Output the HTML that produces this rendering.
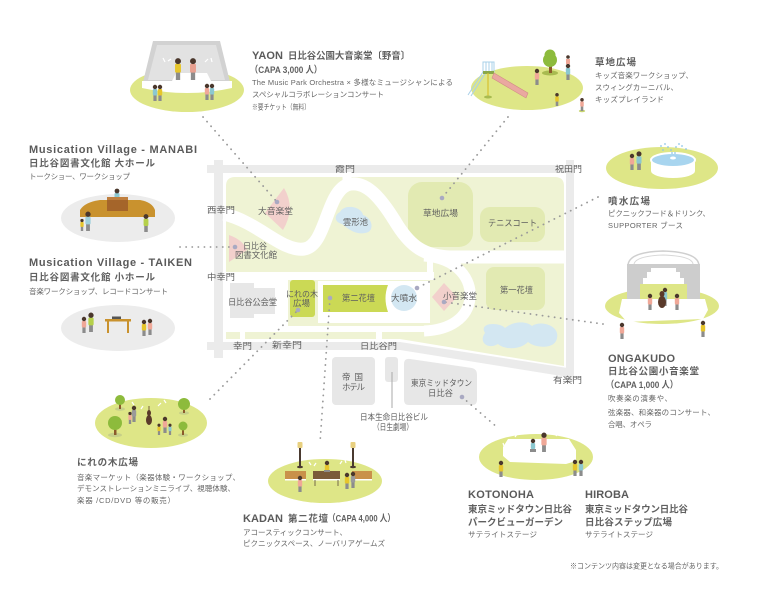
<!DOCTYPE html>
<html><head><meta charset="utf-8"><style>
html,body{margin:0;padding:0;background:#fff;}
svg{display:block;}
text{font-family:"Liberation Sans","Noto Sans CJK JP",sans-serif;fill:#5e5e5e;}
.t{font-weight:bold;font-size:11px;fill:#5a5a5a;}
.s{font-size:9.5px;font-weight:bold;fill:#606060;}
.d{font-size:7.5px;fill:#666;}
.m{font-size:8.5px;fill:#666;}
.dot{stroke:#9a9a9a;stroke-width:1.8;stroke-dasharray:0.1 6;stroke-linecap:round;fill:none;}
</style></head><body>
<svg width="770" height="590" viewBox="0 0 770 590" xmlns="http://www.w3.org/2000/svg">
<rect width="770" height="590" fill="#fff"/>

<!-- ============ MAP ============ -->
<g fill="#ebebeb">
<rect x="207" y="165" width="368" height="8"/>
<rect x="214" y="160" width="9" height="198"/>
<polygon points="207,342 400,342 574,369 574,378 400,350 207,350"/>
<rect x="566" y="160" width="8" height="222"/>
</g>
<path d="M226,186 Q226,177 235,177 L555,177 Q564,177 564,186 L564,366 L400,339 L226,339 Z" fill="#eff3d4"/>
<rect x="408" y="182" width="65" height="65" rx="14" fill="#e2eab2"/>
<rect x="480" y="207" width="65" height="35" rx="10" fill="#e2eab2"/>
<rect x="486" y="267" width="59" height="43" rx="8" fill="#e2eab2"/>
<g fill="none" stroke="#fff">
<path d="M224,214 C258,222 282,252 304,249 C326,246 326,194 347,185 C368,178 385,205 398,226 C411,246 424,256 450,257 L565,257" stroke-width="13"/>
<path d="M347,172 L347,186" stroke-width="9"/>
<path d="M424,256 C458,258 472,280 470,298 C468,318 450,330 424,331" stroke-width="11"/>
<path d="M430,258 L430,276" stroke-width="6"/>
</g>
<g fill="#fff">
<rect x="224" y="272" width="210" height="8"/>
<rect x="224" y="279" width="64" height="50"/>
<rect x="318" y="281" width="112" height="42"/>
<rect x="224" y="326" width="210" height="6"/>
<rect x="240" y="330" width="5" height="12"/>
<rect x="376" y="330" width="6" height="12"/>
</g>
<g fill="#e7e7e7">
<rect x="230" y="283" width="24" height="35"/>
<rect x="252" y="288" width="23" height="26"/>
<rect x="332" y="357" width="43" height="48" rx="4"/>
<rect x="385" y="357" width="13" height="25" rx="3"/>
<path d="M404,364 Q404,358 410,359 L472,368 Q477,369 477,375 L477,400 Q477,405 472,405 L409,405 Q404,405 404,400 Z"/>
</g>
<line x1="392" y1="372" x2="392" y2="408" stroke="#aaa" stroke-width="1"/>
<g fill="#f2d0cc">
<path d="M265,213 L284,188 Q296,208 283,230 Z"/>
<path d="M229,235 Q243,240 247,250 L229,262 Z"/>
<polygon points="444,283 457,297 444,311 432,297"/>
</g>
<g fill="#d3e7f2">
<path d="M340,212 C345,203 362,207 363,215 C373,218 375,232 365,233 C355,235 347,228 342,224 C334,222 334,215 340,212 Z"/>
<path d="M485,333 C478,322 500,322 505,328 C512,322 525,320 532,326 C540,320 560,325 557,338 C555,350 535,348 528,342 C520,350 505,350 498,344 C488,350 478,342 485,333 Z"/>
<circle cx="404" cy="298" r="13"/>
</g>
<g fill="#cbd955">
<rect x="290" y="280" width="25" height="37" rx="3"/>
<path d="M323,285 L388,285 Q383,298 388,312 L323,312 Z"/>
</g>

<g class="m">
<text x="335" y="172" textLength="20" lengthAdjust="spacingAndGlyphs">霞門</text>
<text x="555" y="172" textLength="27" lengthAdjust="spacingAndGlyphs">祝田門</text>
<text x="207" y="213" textLength="28" lengthAdjust="spacingAndGlyphs">西幸門</text>
<text x="207" y="280" textLength="28" lengthAdjust="spacingAndGlyphs">中幸門</text>
<text x="233" y="349" textLength="19" lengthAdjust="spacingAndGlyphs">幸門</text>
<text x="272" y="348" textLength="30" lengthAdjust="spacingAndGlyphs">新幸門</text>
<text x="360" y="349" textLength="37" lengthAdjust="spacingAndGlyphs">日比谷門</text>
<text x="553" y="383" textLength="29" lengthAdjust="spacingAndGlyphs">有楽門</text>
<text x="258" y="214" textLength="35" lengthAdjust="spacingAndGlyphs">大音楽堂</text>
<text x="243" y="249" textLength="24" lengthAdjust="spacingAndGlyphs">日比谷</text>
<text x="235" y="258" textLength="42" lengthAdjust="spacingAndGlyphs">図書文化館</text>
<text x="343" y="225" textLength="25" lengthAdjust="spacingAndGlyphs">雲形池</text>
<text x="423" y="216" textLength="35" lengthAdjust="spacingAndGlyphs">草地広場</text>
<text x="488" y="226" textLength="49" lengthAdjust="spacingAndGlyphs">テニスコート</text>
<text x="500" y="293" textLength="33" lengthAdjust="spacingAndGlyphs">第一花壇</text>
<text x="228" y="305" textLength="49" lengthAdjust="spacingAndGlyphs">日比谷公会堂</text>
<text x="286" y="297" textLength="32" lengthAdjust="spacingAndGlyphs">にれの木</text>
<text x="293" y="306" textLength="17" lengthAdjust="spacingAndGlyphs">広場</text>
<text x="342" y="301" textLength="33" lengthAdjust="spacingAndGlyphs">第二花壇</text>
<text x="391" y="301" textLength="26" lengthAdjust="spacingAndGlyphs">大噴水</text>
<text x="443" y="299" textLength="34" lengthAdjust="spacingAndGlyphs">小音楽堂</text>
<text x="342" y="380" textLength="21" lengthAdjust="spacing">帝国</text>
<text x="342" y="390" textLength="23" lengthAdjust="spacing">ホテル</text>
<text x="411" y="386" textLength="61" lengthAdjust="spacingAndGlyphs">東京ミッドタウン</text>
<text x="428" y="396" textLength="25" lengthAdjust="spacingAndGlyphs">日比谷</text>
<text x="360" y="420" textLength="68" lengthAdjust="spacingAndGlyphs">日本生命日比谷ビル</text>
<text x="373" y="430" textLength="40" lengthAdjust="spacingAndGlyphs">（日生劇場）</text>
</g>

<g class="dot">
<line x1="203" y1="117" x2="277" y2="202"/>
<line x1="508" y1="117" x2="442" y2="198"/>
<line x1="598" y1="197" x2="417" y2="288"/>
<line x1="603" y1="324" x2="444" y2="302"/>
<line x1="180" y1="247" x2="235" y2="247"/>
<line x1="210" y1="399" x2="298" y2="310"/>
<line x1="330" y1="298" x2="320" y2="443"/>
<line x1="462" y1="397" x2="498" y2="428"/>
</g>
<g fill="#a9a9c2">
<circle cx="277" cy="202" r="2.3"/>
<circle cx="235" cy="247" r="2.3"/>
<circle cx="442" cy="198" r="2.3"/>
<circle cx="417" cy="288" r="2.3"/>
<circle cx="444" cy="302" r="2.3"/>
<circle cx="298" cy="310" r="2.3"/>
<circle cx="330" cy="298" r="2.3"/>
<circle cx="462" cy="397" r="2.3"/>
</g>

<!-- ============ YAON ============ -->
<ellipse cx="187" cy="90" rx="57" ry="22" fill="#dee687"/>
<polygon points="153,41 220,41 230,82 143,82" fill="#d2d2d2"/>
<polygon points="157,45 216,45 225,80 148,80" fill="#e2e2e2"/>
<path d="M142,81 L172,81 L176,73 L207,73 L211,81 L232,81 L232,88 Q187,98 142,88 Z" fill="#fff"/>
<g stroke="#fff" stroke-width="1.2" fill="none"><path d="M163,58 l2,4"/><path d="M168,61 l3,-2"/><path d="M205,62 l3,-3"/><path d="M211,58 l1,4"/></g>
<g transform="translate(178,80) scale(1.35)"><rect x="-1.6" y="-6" width="3.2" height="6" fill="#8c8c8c"/><rect x="-2.2" y="-12" width="4.4" height="6.5" rx="1" fill="#e6c52c"/><circle cy="-14" r="2.2" fill="#4a372c"/></g>
<g transform="translate(193,80) scale(1.35)"><rect x="-1.6" y="-6" width="3.2" height="6" fill="#8c8c8c"/><rect x="-2.2" y="-12" width="4.4" height="6.5" rx="1" fill="#e8a090"/><circle cy="-14" r="2.2" fill="#4a372c"/></g>
<g transform="translate(155,101)"><rect x="-1.6" y="-6" width="3.2" height="6" fill="#8c8c8c"/><rect x="-2.2" y="-12" width="4.4" height="6.5" rx="1" fill="#8cc8d0"/><circle cy="-14" r="2.2" fill="#4a372c"/></g>
<g transform="translate(160,101)"><rect x="-1.6" y="-6" width="3.2" height="6" fill="#8c8c8c"/><rect x="-2.2" y="-12" width="4.4" height="6.5" rx="1" fill="#e6c52c"/><circle cy="-14" r="2.2" fill="#4a372c"/></g>
<g transform="translate(207,100)"><rect x="-1.6" y="-6" width="3.2" height="6" fill="#8c8c8c"/><rect x="-2.2" y="-12" width="4.4" height="6.5" rx="1" fill="#f0a898"/><circle cy="-14" r="2.2" fill="#4a372c"/></g>
<g transform="translate(212,100)"><rect x="-1.6" y="-6" width="3.2" height="6" fill="#8c8c8c"/><rect x="-2.2" y="-12" width="4.4" height="6.5" rx="1" fill="#8cc8d0"/><circle cy="-14" r="2.2" fill="#4a372c"/></g>

<text class="t" x="252" y="59" textLength="31" lengthAdjust="spacing">YAON</text>
<text class="s" x="288" y="59" font-size="10.5" textLength="122" lengthAdjust="spacingAndGlyphs">日比谷公園大音楽堂〔野音〕</text>
<text class="s" x="250" y="73" font-size="8.5" textLength="72" lengthAdjust="spacingAndGlyphs">（CAPA 3,000 人）</text>
<text class="d" x="252" y="85" textLength="201" lengthAdjust="spacing">The Music Park Orchestra × 多様なミュージシャンによる</text>
<text class="d" x="252" y="97" textLength="132" lengthAdjust="spacing">スペシャルコラボレーションコンサート</text>
<text class="d" x="252" y="109.5" font-size="6.5" textLength="58" lengthAdjust="spacingAndGlyphs">※要チケット（無料）</text>

<!-- ============ 草地広場 ============ -->
<ellipse cx="527" cy="88" rx="56" ry="22" fill="#dee687"/>
<g stroke="#a9d0e8" stroke-width="1" fill="none">
<rect x="483" y="62" width="11" height="10"/>
<line x1="486" y1="62" x2="486" y2="72"/><line x1="489" y1="62" x2="489" y2="72"/><line x1="492" y1="62" x2="492" y2="72"/>
<path d="M483,72 L468,95 M486,72 L471,96"/>
</g>
<rect x="483" y="71" width="11" height="3" fill="#8aa84a"/>
<line x1="488" y1="73" x2="488" y2="96" stroke="#d8c030" stroke-width="1.2"/>
<ellipse cx="488" cy="97" rx="4" ry="1.5" fill="#a8bb50"/>
<polygon points="494,73 528,93 526,98 492,78" fill="#eaa8a0" stroke="#d08c86" stroke-width="0.6"/>
<ellipse cx="550" cy="73" rx="8" ry="2.5" fill="#a8bb50"/>
<rect x="549" y="64" width="3" height="9" fill="#8b5a2b"/>
<circle cx="550" cy="60" r="7" fill="#8dbb3c"/>
<circle cx="550" cy="55" r="5.5" fill="#8dbb3c"/>
<g transform="translate(537,85)"><rect x="-1.6" y="-6" width="3.2" height="6" fill="#8c8c8c"/><rect x="-2.2" y="-12" width="4.4" height="6.5" rx="1" fill="#f0a898"/><circle cy="-14" r="2.2" fill="#4a372c"/></g>
<g transform="translate(568,80)"><rect x="-1.6" y="-6" width="3.2" height="6" fill="#8c8c8c"/><rect x="-2.2" y="-12" width="4.4" height="6.5" rx="1" fill="#8cc8d0"/><circle cy="-14" r="2.2" fill="#4a372c"/><rect x="-2" y="-21" width="4" height="5" fill="#f0a898"/><circle cy="-23" r="1.8" fill="#4a372c"/></g>
<g transform="translate(557,106) scale(0.8)"><rect x="-1.6" y="-6" width="3.2" height="6" fill="#8c8c8c"/><rect x="-2.2" y="-12" width="4.4" height="6.5" rx="1" fill="#e6c52c"/><circle cy="-14" r="2.2" fill="#4a372c"/></g>
<g transform="translate(582,111) scale(0.8)"><ellipse cy="0" rx="4" ry="1.5" fill="#c8d570"/><rect x="-1.6" y="-6" width="3.2" height="6" fill="#8c8c8c"/><rect x="-2.2" y="-12" width="4.4" height="6.5" rx="1" fill="#f0a898"/><circle cy="-14" r="2.2" fill="#4a372c"/></g>

<text class="s" x="595" y="65.5" font-size="10" textLength="41" lengthAdjust="spacing">草地広場</text>
<text class="d" x="595" y="78" textLength="98" lengthAdjust="spacing">キッズ音楽ワークショップ、</text>
<text class="d" x="595" y="90" textLength="83" lengthAdjust="spacing">スウィングカーニバル、</text>
<text class="d" x="595" y="102" textLength="69" lengthAdjust="spacing">キッズプレイランド</text>

<!-- ============ 噴水広場 ============ -->
<ellipse cx="662" cy="168" rx="56" ry="21" fill="#dee687"/>
<path d="M651,160 L651,171 A22 7 0 0 0 695,171 L695,160 Z" fill="#fff"/>
<ellipse cx="673" cy="160" rx="22" ry="7" fill="#a8d5ef" stroke="#fff" stroke-width="2"/>
<ellipse cx="673" cy="158" rx="3" ry="1.5" fill="#fff"/>
<g fill="#8cc4e8">
<circle cx="661" cy="146" r="0.9"/><circle cx="665" cy="144" r="0.9"/><circle cx="668" cy="147" r="0.9"/><circle cx="671" cy="150" r="0.9"/>
<circle cx="676" cy="147" r="0.9"/><circle cx="679" cy="144" r="0.9"/><circle cx="682" cy="146" r="0.9"/><circle cx="686" cy="149" r="0.9"/>
<circle cx="663" cy="150" r="0.9"/><circle cx="672" cy="153" r="0.9"/><circle cx="675" cy="153" r="0.9"/>
</g>
<g transform="translate(632,170)"><rect x="-1.6" y="-6" width="3.2" height="6" fill="#8c8c8c"/><rect x="-2.2" y="-12" width="4.4" height="6.5" rx="1" fill="#f0a898"/><circle cy="-14" r="2.2" fill="#4a372c"/></g>
<g transform="translate(639,170) scale(1.15)"><rect x="-1.6" y="-6" width="3.2" height="6" fill="#8c8c8c"/><rect x="-2.2" y="-12" width="4.4" height="6.5" rx="1" fill="#8cc8d0"/><circle cy="-14" r="2.2" fill="#4a372c"/></g>

<text class="s" x="608" y="204.5" font-size="10" textLength="42" lengthAdjust="spacing">噴水広場</text>
<text class="d" x="608" y="216" textLength="102" lengthAdjust="spacing">ピクニックフード＆ドリンク、</text>
<text class="d" x="608" y="228" textLength="75" lengthAdjust="spacing">SUPPORTER ブース</text>

<!-- ============ ONGAKUDO ============ -->
<ellipse cx="662" cy="306" rx="57" ry="18" fill="#dee687"/>
<path d="M628,266 Q628,252 663,251 Q699,252 699,266 Z" fill="#fff" stroke="#cfcfcf" stroke-width="1.5"/>
<path d="M634,264 Q636,256 663,255 Q692,256 693,264" fill="none" stroke="#d8d8d8" stroke-width="1"/>
<polygon points="627,264 700,264 700,307 687,307 687,284 684,284 684,278 680,278 680,272 676,272 676,268 651,268 651,272 647,272 647,278 643,278 643,284 640,284 640,307 627,307" fill="#cdcdcd"/>
<rect x="640" y="284" width="47" height="23" fill="#dee687"/>
<polygon points="622,299 705,299 708,310 703,319 627,322 619,313" fill="#fff"/>
<g transform="translate(650,310)"><rect x="-1.6" y="-6" width="3.2" height="6" fill="#8c8c8c"/><rect x="-2.2" y="-12" width="4.4" height="6.5" rx="1" fill="#f0a898"/><circle cy="-14" r="2.2" fill="#4a372c"/></g>
<g transform="translate(665,306)"><rect x="-1.6" y="-6" width="3.2" height="6" fill="#8c8c8c"/><rect x="-2.2" y="-14" width="4.4" height="8" rx="1" fill="#8cc8d0"/><circle cy="-16" r="2.2" fill="#4a372c"/></g>
<ellipse cx="662" cy="302" rx="4" ry="6" fill="#5a3a2a"/>
<ellipse cx="662" cy="294" rx="2.5" ry="3" fill="#5a3a2a"/>
<g transform="translate(677,310)"><rect x="-1.6" y="-6" width="3.2" height="6" fill="#8c8c8c"/><rect x="-2.2" y="-12" width="4.4" height="6.5" rx="1" fill="#f0a898"/><circle cy="-14" r="2.2" fill="#4a372c"/></g>
<g transform="translate(622,339)"><rect x="-1.6" y="-6" width="3.2" height="6" fill="#8c8c8c"/><rect x="-2.2" y="-12" width="4.4" height="6.5" rx="1" fill="#f0a898"/><circle cy="-14" r="2.2" fill="#4a372c"/></g>
<g transform="translate(703,337)"><rect x="-1.6" y="-6" width="3.2" height="6" fill="#8c8c8c"/><rect x="-2.2" y="-12" width="4.4" height="6.5" rx="1" fill="#e6c52c"/><circle cy="-14" r="2.2" fill="#4a372c"/></g>

<text class="t" x="608" y="362" textLength="67" lengthAdjust="spacing">ONGAKUDO</text>
<text class="s" x="608" y="374.5" font-size="10" textLength="91" lengthAdjust="spacing">日比谷公園小音楽堂</text>
<text class="s" x="606" y="388" font-size="8.5" textLength="72" lengthAdjust="spacingAndGlyphs">（CAPA 1,000 人）</text>
<text class="d" x="608" y="401" textLength="64" lengthAdjust="spacing">吹奏楽の演奏や、</text>
<text class="d" x="608" y="415" textLength="107" lengthAdjust="spacing">弦楽器、和楽器のコンサート、</text>
<text class="d" x="608" y="427" textLength="44" lengthAdjust="spacing">合唱、オペラ</text>

<!-- ============ MANABI ============ -->
<text class="t" x="29" y="153" textLength="168" lengthAdjust="spacing">Musication Village - MANABI</text>
<text class="s" x="29" y="166.5" textLength="126" lengthAdjust="spacing">日比谷図書文化館 大ホール</text>
<text class="d" x="29" y="179" textLength="101" lengthAdjust="spacing">トークショー、ワークショップ</text>
<ellipse cx="118" cy="218" rx="57" ry="24" fill="#ececec"/>
<path d="M80,210 Q85,202 100,200 L140,200 Q152,202 155,210 L155,217 L80,217 Z" fill="#c9922e"/>
<g transform="translate(117,205)"><rect x="-2.5" y="-12" width="5" height="7" rx="1" fill="#8cc8d0"/><circle cy="-14" r="2.4" fill="#4a372c"/></g>
<rect x="107" y="197" width="21" height="14" fill="#a5652a"/>
<rect x="107" y="197" width="21" height="3" fill="#c08040"/>
<g transform="translate(88,231) scale(1.2)"><rect x="-1.6" y="-6" width="3.2" height="6" fill="#8c8c8c"/><rect x="-2.2" y="-12" width="4.4" height="6.5" rx="1" fill="#9fd0dc"/><circle cy="-14" r="2.2" fill="#4a372c"/></g>
<g transform="translate(82,231) scale(0.75)"><rect x="-1.6" y="-6" width="3.2" height="6" fill="#8c8c8c"/><rect x="-2.2" y="-12" width="4.4" height="6.5" rx="1" fill="#e6c52c"/><circle cy="-14" r="2.2" fill="#4a372c"/></g>
<g transform="translate(146,232) scale(1.1)"><rect x="-1.6" y="-6" width="3.2" height="6" fill="#8c8c8c"/><rect x="-2.2" y="-12" width="4.4" height="6.5" rx="1" fill="#b5d04a"/><circle cy="-14" r="2.2" fill="#4a372c"/></g>

<!-- ============ TAIKEN ============ -->
<text class="t" x="29" y="266" textLength="163" lengthAdjust="spacing">Musication Village - TAIKEN</text>
<text class="s" x="29" y="280.5" textLength="126" lengthAdjust="spacing">日比谷図書文化館 小ホール</text>
<text class="d" x="29" y="294" textLength="139" lengthAdjust="spacing">音楽ワークショップ、レコードコンサート</text>
<ellipse cx="118" cy="328" rx="57" ry="23" fill="#ececec"/>
<rect x="105" y="319" width="26" height="2.5" fill="#c9922e"/>
<rect x="107" y="321" width="2" height="12" fill="#c9922e"/>
<rect x="127" y="321" width="2" height="12" fill="#c9922e"/>
<rect x="112" y="316.5" width="9" height="2.5" fill="#555"/>
<g transform="translate(84,333)"><rect x="-1.6" y="-6" width="3.2" height="6" fill="#8c8c8c"/><rect x="-2.2" y="-12" width="4.4" height="6.5" rx="1" fill="#f0a898"/><circle cy="-14" r="2.2" fill="#4a372c"/></g>
<g transform="translate(91,332) scale(1.2)"><rect x="-1.6" y="-6" width="3.2" height="6" fill="#8c8c8c"/><rect x="-2.2" y="-12" width="4.4" height="6.5" rx="1" fill="#b5d04a"/><circle cy="-14" r="2.2" fill="#4a372c"/></g>
<g transform="translate(144,336)"><rect x="-1.6" y="-6" width="3.2" height="6" fill="#8c8c8c"/><rect x="-2.2" y="-12" width="4.4" height="6.5" rx="1" fill="#e6c52c"/><circle cy="-14" r="2.2" fill="#4a372c"/></g>
<g transform="translate(150,335)"><rect x="-1.6" y="-6" width="3.2" height="6" fill="#8c8c8c"/><rect x="-2.2" y="-12" width="4.4" height="6.5" rx="1" fill="#f0a898"/><circle cy="-14" r="2.2" fill="#4a372c"/></g>

<!-- ============ にれの木広場 ============ -->
<ellipse cx="151" cy="423" rx="56" ry="25" fill="#dee687"/>
<g fill="#c6cf88">
<ellipse cx="120" cy="409" rx="5" ry="1.8"/><ellipse cx="115" cy="435" rx="7" ry="2.2"/>
<ellipse cx="184" cy="413" rx="5" ry="1.8"/><ellipse cx="183" cy="435" rx="5" ry="1.8"/>
</g>
<g fill="#8b5a2b"><rect x="119" y="402" width="2" height="7"/><rect x="114" y="427" width="2.5" height="8"/><rect x="183" y="406" width="2" height="7"/><rect x="182" y="429" width="2" height="6"/></g>
<g fill="#8dbb3c">
<circle cx="120" cy="400" r="5"/><circle cx="115" cy="423" r="7"/><circle cx="184" cy="404" r="6"/><circle cx="183" cy="426" r="4.5"/>
</g>
<g stroke="#fff" stroke-width="1.2" fill="none"><path d="M132,402 l2,3"/><path d="M141,409 l2,-3"/><path d="M158,406 l3,-3"/><path d="M164,400 l2,3"/></g>
<ellipse cx="149" cy="420" rx="3" ry="5" fill="#5a3a2a"/>
<ellipse cx="149" cy="413" rx="2" ry="3" fill="#5a3a2a"/>
<line x1="149" y1="406" x2="149" y2="425" stroke="#5a3a2a" stroke-width="0.8"/>
<g transform="translate(130,424) scale(0.75)"><rect x="-1.6" y="-6" width="3.2" height="6" fill="#8c8c8c"/><rect x="-2.2" y="-12" width="4.4" height="6.5" rx="1" fill="#f0a898"/><circle cy="-14" r="2.2" fill="#4a372c"/></g>
<g transform="translate(134,422)"><rect x="-1.6" y="-6" width="3.2" height="6" fill="#8c8c8c"/><rect x="-2.2" y="-12" width="4.4" height="6.5" rx="1" fill="#9a9a9a"/><circle cy="-14" r="2.2" fill="#4a372c"/></g>
<g transform="translate(165,433)"><rect x="-1.6" y="-6" width="3.2" height="6" fill="#8c8c8c"/><rect x="-2.2" y="-12" width="4.4" height="6.5" rx="1" fill="#f0a898"/><circle cy="-14" r="2.2" fill="#4a372c"/></g>
<g transform="translate(159,435) scale(0.7)"><rect x="-1.6" y="-6" width="3.2" height="6" fill="#8c8c8c"/><rect x="-2.2" y="-12" width="4.4" height="6.5" rx="1" fill="#e6c52c"/><circle cy="-14" r="2.2" fill="#4a372c"/></g>
<g transform="translate(170,435) scale(0.7)"><rect x="-1.6" y="-6" width="3.2" height="6" fill="#8c8c8c"/><rect x="-2.2" y="-12" width="4.4" height="6.5" rx="1" fill="#8cc8d0"/><circle cy="-14" r="2.2" fill="#4a372c"/></g>

<text class="s" x="77" y="465.5" font-size="10" textLength="61" lengthAdjust="spacing">にれの木広場</text>
<text class="d" x="77" y="480" textLength="163" lengthAdjust="spacing">音楽マーケット（楽器体験・ワークショップ、</text>
<text class="d" x="77" y="491" textLength="158" lengthAdjust="spacing">デモンストレーションミニライブ、視聴体験、</text>
<text class="d" x="77" y="503" textLength="98" lengthAdjust="spacing">楽器 /CD/DVD 等の販売）</text>

<!-- ============ KADAN ============ -->
<ellipse cx="325" cy="481" rx="57" ry="22" fill="#dee687"/>
<g fill="#4a3a30">
<rect x="299" y="447" width="2" height="20"/><rect x="352" y="447" width="2" height="20"/>
<ellipse cx="300" cy="467" rx="3" ry="1.2"/><ellipse cx="353" cy="467" rx="3" ry="1.2"/>
</g>
<g fill="#e8d080"><rect x="297.5" y="442" width="5" height="6" rx="1"/><rect x="350.5" y="442" width="5" height="6" rx="1"/></g>
<g fill="#c9914a"><rect x="285" y="471" width="21" height="8"/><rect x="352" y="471" width="20" height="8"/></g>
<g fill="#fff"><rect x="285" y="479" width="21" height="1.5"/><rect x="352" y="479" width="20" height="1.5"/></g>
<rect x="313" y="471" width="27" height="8" fill="#7a5a3a"/>
<rect x="313" y="479" width="27" height="1.5" fill="#fff"/>
<g stroke="#5a4a3a" stroke-width="0.8"><line x1="315" y1="480" x2="315" y2="486"/><line x1="338" y1="480" x2="338" y2="486"/></g>
<g transform="translate(327,475)"><rect x="-2.2" y="-10" width="4.4" height="6" rx="1" fill="#e6c52c"/><circle cy="-12" r="2.2" fill="#4a372c"/><rect x="-3" y="-5" width="6" height="2" fill="#8c8c8c"/></g>
<g stroke="#fff" stroke-width="1.2" fill="none"><path d="M309,462 l2,3"/><path d="M314,466 l2,-3"/><path d="M340,464 l2,-3"/><path d="M345,460 l1,3"/></g>
<g transform="translate(300,492)"><rect x="-1.6" y="-6" width="3.2" height="6" fill="#8c8c8c"/><rect x="-2.2" y="-12" width="4.4" height="6.5" rx="1" fill="#f0a898"/><circle cy="-14" r="2.2" fill="#4a372c"/></g>
<g transform="translate(347,489)"><rect x="-1.6" y="-6" width="3.2" height="6" fill="#8c8c8c"/><rect x="-2.2" y="-12" width="4.4" height="6.5" rx="1" fill="#e6c52c"/><circle cy="-14" r="2.2" fill="#4a372c"/></g>
<g transform="translate(353,488)"><rect x="-1.6" y="-6" width="3.2" height="6" fill="#8c8c8c"/><rect x="-2.2" y="-12" width="4.4" height="6.5" rx="1" fill="#9a9a9a"/><circle cy="-14" r="2.2" fill="#4a372c"/></g>

<text class="t" x="243" y="522" textLength="40" lengthAdjust="spacing">KADAN</text>
<text class="s" x="288" y="522" font-size="10" textLength="40" lengthAdjust="spacing">第二花壇</text>
<text class="s" x="328" y="521.5" font-size="8.5" textLength="67" lengthAdjust="spacingAndGlyphs">（CAPA 4,000 人）</text>
<text class="d" x="243" y="535" textLength="104" lengthAdjust="spacing">アコースティックコンサート、</text>
<text class="d" x="243" y="546" textLength="142" lengthAdjust="spacing">ピクニックスペース、ノーバリアゲームズ</text>

<!-- ============ KOTONOHA / HIROBA ============ -->
<ellipse cx="536" cy="457" rx="57" ry="23" fill="#dee687"/>
<polygon points="508,439 569,439 576,450 576,461 566,464 510,462 503,456 503,447" fill="#fff"/>
<g stroke="#fff" stroke-width="1.2" fill="none"><path d="M503,443 l1,3"/><path d="M515,437 l2,-3"/><path d="M556,436 l2,-3"/><path d="M569,441 l1,3"/></g>
<g transform="translate(533,452)"><rect x="-3" y="-3" width="6" height="3" fill="#8c8c8c"/><rect x="-2.2" y="-9" width="4.4" height="6" rx="1" fill="#8cc8d0"/><circle cy="-11" r="2.2" fill="#4a372c"/></g>
<g transform="translate(544,452) scale(1.2)"><rect x="-1.6" y="-6" width="3.2" height="6" fill="#8c8c8c"/><rect x="-2.2" y="-12" width="4.4" height="6.5" rx="1" fill="#f0a898"/><circle cy="-14" r="2.2" fill="#4a372c"/></g>
<g transform="translate(501,477)"><rect x="-1.6" y="-6" width="3.2" height="6" fill="#8c8c8c"/><rect x="-2.2" y="-12" width="4.4" height="6.5" rx="1" fill="#e6c52c"/><circle cy="-14" r="2.2" fill="#4a372c"/></g>
<g transform="translate(575,476)"><rect x="-1.6" y="-6" width="3.2" height="6" fill="#8c8c8c"/><rect x="-2.2" y="-12" width="4.4" height="6.5" rx="1" fill="#e6c52c"/><circle cy="-14" r="2.2" fill="#4a372c"/></g>
<g transform="translate(581,476)"><rect x="-1.6" y="-6" width="3.2" height="6" fill="#8c8c8c"/><rect x="-2.2" y="-12" width="4.4" height="6.5" rx="1" fill="#8cc8d0"/><circle cy="-14" r="2.2" fill="#4a372c"/></g>

<text class="t" x="468" y="498" textLength="66" lengthAdjust="spacing">KOTONOHA</text>
<text class="s" x="468" y="512.5" font-size="10" textLength="104" lengthAdjust="spacing">東京ミッドタウン日比谷</text>
<text class="s" x="468" y="525.5" font-size="10" textLength="95" lengthAdjust="spacing">パークビューガーデン</text>
<text class="d" x="468" y="537" textLength="69" lengthAdjust="spacing">サテライトステージ</text>

<text class="t" x="585" y="498" textLength="44" lengthAdjust="spacing">HIROBA</text>
<text class="s" x="585" y="512.5" font-size="10" textLength="103" lengthAdjust="spacing">東京ミッドタウン日比谷</text>
<text class="s" x="585" y="525.5" font-size="10" textLength="87" lengthAdjust="spacing">日比谷ステップ広場</text>
<text class="d" x="585" y="537" textLength="68" lengthAdjust="spacing">サテライトステージ</text>

<text class="d" x="570" y="568.5" font-size="6.5" textLength="153" lengthAdjust="spacingAndGlyphs">※コンテンツ内容は変更となる場合があります。</text>
</svg>
</body></html>
